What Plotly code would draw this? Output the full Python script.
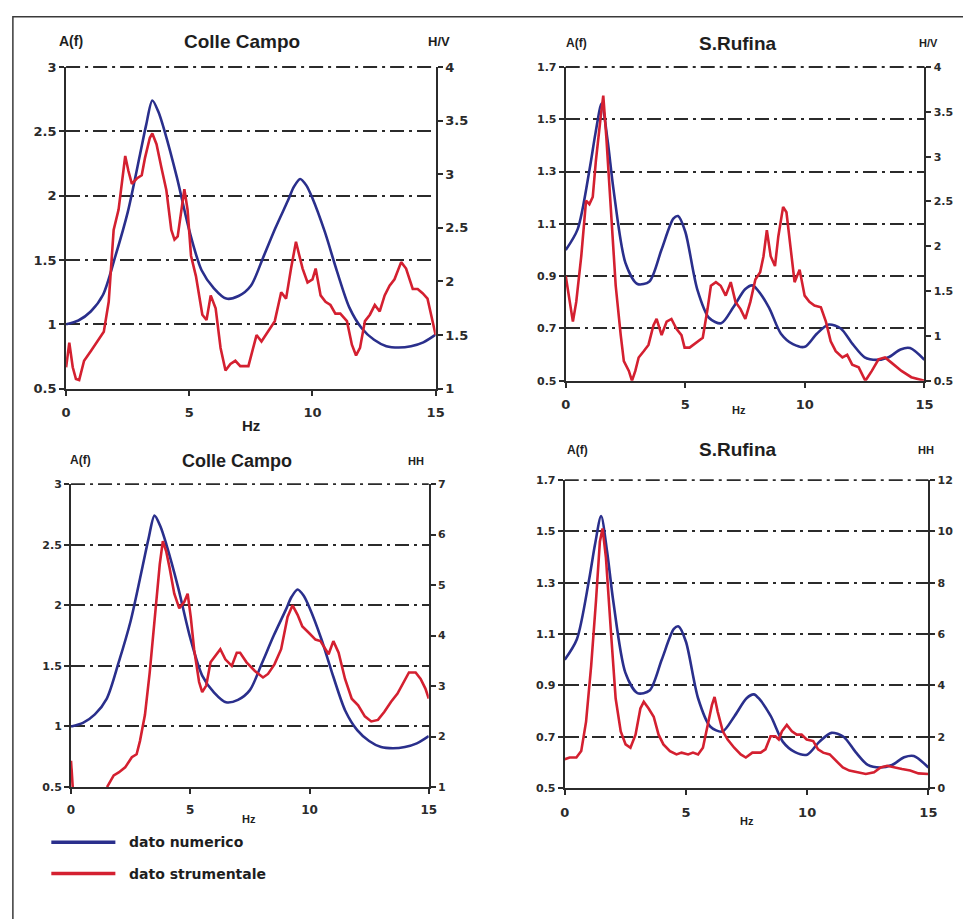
import plotly.graph_objects as go

W, H = 963, 919

# ---- numerical model A(f) ----
cc_num_hz = [0, 0.5, 1, 1.5, 2, 2.5, 3, 3.25, 3.5, 3.75, 4, 4.5, 5, 5.5, 6, 6.5, 7, 7.5, 8, 8.5,
             9, 9.25, 9.5, 9.75, 10, 10.5, 11, 11.5, 12, 12.5, 13, 13.5, 14, 14.5, 15]
cc_num_amp = [1.00, 1.03, 1.10, 1.23, 1.53, 1.87, 2.32, 2.55, 2.74, 2.65, 2.50, 2.14, 1.73, 1.42, 1.28, 1.20, 1.22, 1.30, 1.52, 1.75,
              1.96, 2.07, 2.13, 2.08, 1.98, 1.72, 1.41, 1.13, 0.97, 0.88, 0.83, 0.82, 0.83, 0.86, 0.92]

sr_num_hz = [0, 0.5, 1, 1.25, 1.5, 1.75, 2, 2.5, 3, 3.5, 4, 4.5, 4.7, 5, 5.5, 6, 6.5, 7, 7.5, 7.8,
             8, 8.5, 9, 9.5, 10, 10.5, 11, 11.5, 12, 12.5, 13, 13.5, 14, 14.4, 15]
sr_num_amp = [1.00, 1.08, 1.31, 1.45, 1.56, 1.42, 1.23, 0.95, 0.87, 0.88, 1.00, 1.12, 1.13, 1.07, 0.85, 0.74, 0.72, 0.78, 0.85, 0.865,
              0.85, 0.78, 0.68, 0.64, 0.63, 0.68, 0.715, 0.70, 0.64, 0.59, 0.58, 0.59, 0.62, 0.625, 0.58]

# ---- instrumental data: H/V ratios ----
cc_hv_hz = [0, 0.13, 0.27, 0.4, 0.53, 0.73, 1.0, 1.27, 1.53, 1.73, 1.93, 2.13, 2.27, 2.4, 2.53, 2.67, 2.87, 3.07, 3.2, 3.4,
            3.5, 3.67, 3.87, 4.07, 4.27, 4.4, 4.53, 4.67, 4.8, 4.93, 5.07, 5.27, 5.53, 5.7, 5.87, 6.07, 6.27, 6.47, 6.67, 6.87,
            7.07, 7.4, 7.73, 7.93, 8.2, 8.47, 8.73, 8.93, 9.13, 9.33, 9.47, 9.6, 9.8, 10.0, 10.13, 10.33, 10.53, 10.73, 10.93, 11.13,
            11.4, 11.6, 11.77, 11.93, 12.13, 12.33, 12.53, 12.73, 12.93, 13.13, 13.33, 13.6, 13.8, 14.07, 14.27, 14.47, 14.67, 14.87, 15.0]
cc_hv = [1.20, 1.43, 1.20, 1.09, 1.08, 1.26, 1.35, 1.44, 1.53, 1.81, 2.48, 2.67, 2.91, 3.17, 3.03, 2.91, 2.96, 2.99, 3.15, 3.34,
         3.38, 3.28, 3.06, 2.85, 2.48, 2.39, 2.42, 2.67, 2.86, 2.67, 2.24, 2.05, 1.69, 1.64, 1.87, 1.75, 1.38, 1.17, 1.23, 1.26,
         1.21, 1.21, 1.50, 1.44, 1.53, 1.63, 1.90, 1.84, 2.12, 2.37, 2.24, 2.12, 1.99, 2.02, 2.12, 1.87, 1.81, 1.78, 1.70, 1.70,
         1.63, 1.41, 1.31, 1.38, 1.63, 1.69, 1.78, 1.72, 1.87, 1.96, 2.02, 2.18, 2.12, 1.93, 1.93, 1.89, 1.84, 1.63, 1.50]

sr_hv_hz = [0, 0.16, 0.3, 0.44, 0.65, 0.85, 0.99, 1.13, 1.26, 1.47, 1.57, 1.7, 1.88, 2.09, 2.3, 2.43, 2.64, 2.77, 2.91, 3.05,
            3.26, 3.46, 3.67, 3.8, 4.01, 4.22, 4.42, 4.63, 4.84, 4.97, 5.18, 5.45, 5.73, 5.93, 6.07, 6.28, 6.48, 6.69, 6.9, 7.1,
            7.31, 7.51, 7.72, 7.93, 8.13, 8.27, 8.41, 8.57, 8.75, 8.89, 9.09, 9.23, 9.44, 9.57, 9.78, 9.99, 10.19, 10.4, 10.67, 10.88,
            11.08, 11.29, 11.57, 11.77, 11.98, 12.25, 12.53, 12.8, 13.08, 13.35, 13.63, 14.04, 14.45, 15]
sr_hv = [1.67, 1.41, 1.16, 1.38, 1.89, 2.51, 2.47, 2.55, 2.95, 3.46, 3.68, 3.21, 2.47, 1.56, 1.01, 0.72, 0.61, 0.50, 0.61, 0.76,
         0.83, 0.90, 1.12, 1.19, 1.01, 1.16, 1.19, 1.08, 1.01, 0.87, 0.87, 0.92, 0.98, 1.30, 1.56, 1.60, 1.56, 1.45, 1.60, 1.38,
         1.30, 1.19, 1.38, 1.63, 1.71, 1.89, 2.18, 1.89, 1.78, 2.11, 2.44, 2.38, 1.93, 1.60, 1.74, 1.45, 1.38, 1.34, 1.32, 1.16,
         0.94, 0.83, 0.76, 0.79, 0.68, 0.65, 0.50, 0.61, 0.74, 0.76, 0.70, 0.61, 0.54, 0.50]

# ---- instrumental data: H/H ratios ----
cc_hh_hz = [0, 0.07, 0.8, 1.51, 1.79, 2.0, 2.27, 2.55, 2.75, 2.89, 3.1, 3.3, 3.51, 3.72, 3.85, 3.99, 4.13, 4.33, 4.54, 4.75,
            4.89, 5.02, 5.16, 5.37, 5.5, 5.67, 5.85, 6.05, 6.26, 6.47, 6.74, 6.95, 7.09, 7.36, 7.71, 8.05, 8.26, 8.53, 8.81, 9.08,
            9.29, 9.5, 9.7, 9.98, 10.25, 10.46, 10.66, 10.8, 11.0, 11.22, 11.49, 11.77, 12.04, 12.32, 12.59, 12.87, 13.14, 13.42, 13.69, 13.97,
            14.17, 14.45, 14.66, 14.86, 15]
cc_hh = [1.52, 1.0, None, 1.0, 1.23, 1.29, 1.39, 1.59, 1.65, 1.91, 2.43, 3.27, 4.37, 5.41, 5.87, 5.67, 5.35, 4.83, 4.54, 4.67,
         4.83, 4.37, 3.73, 3.08, 2.88, 3.01, 3.47, 3.60, 3.73, 3.53, 3.40, 3.66, 3.66, 3.47, 3.30, 3.17, 3.24, 3.43, 3.73, 4.37,
         4.60, 4.41, 4.18, 4.05, 3.92, 3.89, 3.73, 3.63, 3.89, 3.66, 3.14, 2.75, 2.62, 2.40, 2.30, 2.33, 2.49, 2.69, 2.85, 3.08,
         3.27, 3.27, 3.14, 2.95, 2.75]

sr_hh_hz = [0, 0.2, 0.48, 0.68, 0.88, 1.09, 1.29, 1.45, 1.56, 1.7, 1.9, 2.1, 2.31, 2.51, 2.71, 2.92, 3.12, 3.26, 3.46, 3.67,
            3.87, 4.07, 4.34, 4.61, 4.82, 5.09, 5.29, 5.5, 5.7, 5.91, 6.07, 6.18, 6.31, 6.52, 6.72, 6.99, 7.26, 7.47, 7.74, 8.08,
            8.28, 8.49, 8.69, 8.83, 8.96, 9.16, 9.37, 9.57, 9.77, 9.98, 10.25, 10.45, 10.66, 10.93, 11.2, 11.47, 11.74, 12.08, 12.42, 12.76,
            13.03, 13.3, 13.57, 13.91, 14.25, 14.59, 15]
sr_hh = [1.12, 1.19, 1.19, 1.44, 2.59, 4.76, 7.31, 9.61, 10.12, 8.97, 6.17, 3.49, 2.21, 1.70, 1.57, 2.08, 3.10, 3.36, 3.10, 2.78,
         2.08, 1.70, 1.44, 1.31, 1.38, 1.31, 1.38, 1.31, 1.57, 2.46, 3.23, 3.55, 2.97, 2.21, 1.89, 1.57, 1.31, 1.19, 1.38, 1.38,
         1.51, 2.02, 2.02, 1.89, 2.21, 2.46, 2.21, 2.08, 2.08, 1.89, 1.83, 1.51, 1.38, 1.31, 1.06, 0.80, 0.68, 0.61, 0.55, 0.61,
         0.80, 0.87, 0.80, 0.74, 0.68, 0.57, 0.55]

# ---- axis ticks ----
hz_ticks = [0, 5, 10, 15]
cc_amp_ticks = [0.5, 1, 1.5, 2, 2.5, 3]
cc_amp_text = ["0.5", "1", "1.5", "2", "2.5", "3"]
sr_amp_ticks = [0.5, 0.7, 0.9, 1.1, 1.3, 1.5, 1.7]
sr_amp_text = ["0.5", "0.7", "0.9", "1.1", "1.3", "1.5", "1.7"]
cc_hv_ticks = [1, 1.5, 2, 2.5, 3, 3.5, 4]
cc_hv_text = ["1", "1.5", "2", "2.5", "3", "3.5", "4"]
sr_hv_ticks = [0.5, 1, 1.5, 2, 2.5, 3, 3.5, 4]
sr_hv_text = ["0.5", "1", "1.5", "2", "2.5", "3", "3.5", "4"]
cc_hh_ticks = [1, 2, 3, 4, 5, 6, 7]
sr_hh_ticks = [0, 2, 4, 6, 8, 10, 12]

BLUE = "#2a2f8c"
RED = "#d42030"
INK = "#2b2b2b"
TICKFONT = "DejaVu Sans"
TITLEFONT = "Liberation Sans"
GRIDDASH = "14px,5px,3px,5px"


def px(x):
    return x / W


def py(y):
    return 1 - y / H


# plot areas in pixels: (left, right, top, bottom)
panels = [
    (62, 437, 61, 388),
    (569, 933, 61, 380),
    (67, 430, 485, 793),
    (568, 937, 481, 794),
]

fig = go.Figure()

series = [
    (cc_num_hz, cc_num_amp, cc_hv_hz, cc_hv),
    (sr_num_hz, sr_num_amp, sr_hv_hz, sr_hv),
    (cc_num_hz, cc_num_amp, cc_hh_hz, cc_hh),
    (sr_num_hz, sr_num_amp, sr_hh_hz, sr_hh),
]

for i, (nx, ny, rx, ry) in enumerate(series):
    k = i + 1
    xa = "x" if k == 1 else f"x{k}"
    yl = "y" if k == 1 else f"y{k}"
    yr = f"y{k + 4}"
    fig.add_trace(go.Scatter(x=rx, y=ry, xaxis=xa, yaxis=yr, mode="lines",
                             line=dict(color=RED, width=2.6), connectgaps=False,
                             showlegend=False, name="dato strumentale"))
    fig.add_trace(go.Scatter(x=nx, y=ny, xaxis=xa, yaxis=yl, mode="lines",
                             line=dict(color=BLUE, width=2.6, shape="spline", smoothing=0.8),
                             showlegend=False, name="dato numerico"))

left_cfg = [
    ([0.5, 3], cc_amp_ticks, cc_amp_text, 13),
    ([0.5, 1.7], sr_amp_ticks, sr_amp_text, 11),
    ([0.5, 3], cc_amp_ticks, cc_amp_text, 11),
    ([0.5, 1.7], sr_amp_ticks, sr_amp_text, 11),
]
right_cfg = [
    ([1, 4], cc_hv_ticks, cc_hv_text, 13),
    ([0.5, 4], sr_hv_ticks, sr_hv_text, 11),
    ([1, 7], cc_hh_ticks, [str(v) for v in cc_hh_ticks], 11),
    ([0, 12], sr_hh_ticks, [str(v) for v in sr_hh_ticks], 11),
]
xfont = [13, 13, 12, 13]

layout = dict(
    width=W, height=H, margin=dict(l=0, r=0, t=0, b=0),
    paper_bgcolor="white", plot_bgcolor="white", showlegend=False,
)

tick_common = dict(ticklen=5, tickwidth=1.5, tickcolor=INK, showgrid=False, zeroline=False)

for i, (l, r, t, b) in enumerate(panels):
    k = i + 1
    xkey = "xaxis" if k == 1 else f"xaxis{k}"
    ylkey = "yaxis" if k == 1 else f"yaxis{k}"
    yrkey = f"yaxis{k + 4}"
    xname = "x" if k == 1 else f"x{k}"
    ylname = "y" if k == 1 else f"y{k}"
    xdom = [px(l), px(r)]
    ydom = [py(b), py(t)]
    hz_text = [str(v) for v in hz_ticks]
    layout[xkey] = dict(
        domain=xdom, anchor=ylname, range=[0, 15],
        tickvals=hz_ticks, ticktext=hz_text,
        showline=True, linecolor=INK, linewidth=2, ticks="outside", **tick_common,
        tickfont=dict(family=TICKFONT, size=xfont[i], color=INK, weight="bold"), ticklabelstandoff=6,
    )
    lrng, ltv, ltt, lfs = left_cfg[i]
    layout[ylkey] = dict(
        domain=ydom, anchor=xname, range=lrng,
        tickvals=ltv, ticktext=ltt, showline=True, linecolor=INK, linewidth=2,
        ticks="outside", ticklen=5, tickwidth=1.5, tickcolor=INK,
        showgrid=True, gridcolor=INK, gridwidth=1.8, griddash=GRIDDASH,
        zeroline=False, tickfont=dict(family=TICKFONT, size=lfs, color=INK, weight="bold"),
    )
    rrng, rtv, rtt, rfs = right_cfg[i]
    layout[yrkey] = dict(
        domain=ydom, anchor=xname, overlaying=ylname, side="right", range=rrng,
        tickvals=rtv, ticktext=rtt, showline=True, linecolor=INK, linewidth=2,
        ticks="outside", **tick_common,
        tickfont=dict(family=TICKFONT, size=rfs, color=INK, weight="bold"),
    )
    # inner halves of the tick marks, so each tick crosses its axis line
    layout[f"yaxis{k + 8}"] = dict(
        domain=ydom, anchor=xname, overlaying=ylname, side="left", range=lrng,
        tickvals=ltv, showticklabels=False, showline=False, ticks="inside", **tick_common,
    )
    layout[f"yaxis{k + 12}"] = dict(
        domain=ydom, anchor=xname, overlaying=ylname, side="right", range=rrng,
        tickvals=rtv, showticklabels=False, showline=False, ticks="inside", **tick_common,
    )
    layout[f"xaxis{k + 4}"] = dict(
        domain=xdom, anchor=ylname, overlaying=xname, side="bottom", range=[0, 15],
        tickvals=hz_ticks, showticklabels=False, showline=False, ticks="inside", **tick_common,
    )
    # dash-dot rule along the top edge, matching the grid lines
    fig.add_shape(type="line", xref=f"{xname} domain", yref=f"{ylname} domain",
                  x0=0, x1=1, y0=1, y1=1, line=dict(color=INK, width=1.8, dash=GRIDDASH), layer="below")

fig.update_layout(**layout)

# panel labels: (text, x, y, size, font)
labels = [
    ("A(f)", 67, 35, 14, TITLEFONT), ("Colle Campo", 240, 35, 19, TITLEFONT), ("H/V", 440, 35, 13, TITLEFONT),
    ("Hz", 250, 425, 15, TITLEFONT),
    ("A(f)", 580, 37, 12, TITLEFONT), ("S.Rufina", 743, 37, 19, TITLEFONT), ("H/V", 937, 37, 11, TITLEFONT),
    ("Hz", 745, 410, 11, TITLEFONT),
    ("A(f)", 77, 461, 12, TITLEFONT), ("Colle Campo", 235, 462, 18, TITLEFONT), ("HH", 417, 462, 11, TITLEFONT),
    ("Hz", 248, 825, 11, TITLEFONT),
    ("A(f)", 581, 450, 12, TITLEFONT), ("S.Rufina", 743, 450, 19, TITLEFONT), ("HH", 935, 450, 11, TITLEFONT),
    ("Hz", 753, 827, 11, TITLEFONT),
]
for text, x, y, s, fam in labels:
    fig.add_annotation(text=f"<b>{text}</b>", x=px(x), y=py(y), xref="paper", yref="paper",
                       xanchor="center", yanchor="middle", showarrow=False,
                       font=dict(family=fam, size=s, color="#1e1e1e"))

# key
key_items = [("dato numerico", BLUE, 849), ("dato strumentale", RED, 881)]
for text, color, y in key_items:
    fig.add_shape(type="line", xref="paper", yref="paper", x0=px(47), x1=px(112), y0=py(y), y1=py(y),
                  line=dict(color=color, width=3.5))
    fig.add_annotation(text=f"<b>{text}</b>", x=px(124), y=py(y), xref="paper", yref="paper",
                       xanchor="left", yanchor="middle", showarrow=False,
                       font=dict(family=TICKFONT, size=14, color="#1e1e1e"))

# outer frame
fig.add_shape(type="rect", xref="paper", yref="paper", x0=px(8), x1=px(975), y0=py(930), y1=py(10),
              line=dict(color="#3a3a3a", width=1.5), fillcolor="rgba(0,0,0,0)")

fig.write_html("out.html")
